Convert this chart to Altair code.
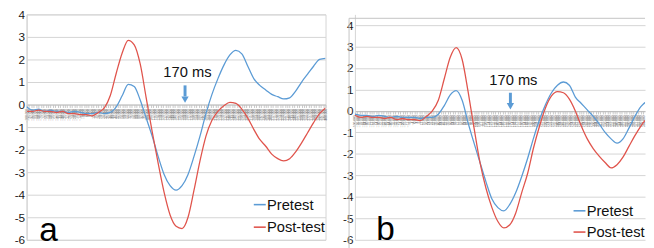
import altair as alt
import pandas as pd

# ---------------- data ----------------
times = list(range(-100, 401, 10))

a_pretest = [-0.1, -0.25, -0.2, -0.3, -0.25, -0.3, -0.3, -0.35, -0.3, -0.35,
             -0.4, -0.4, -0.35, -0.4, -0.35, -0.1, 0.4, 0.9, 0.8, 0.2,
             -0.6, -1.4, -2.3, -3.1, -3.6, -3.8, -3.6, -3.1, -2.3, -1.4,
             -0.4, 0.45, 1.15, 1.75, 2.2, 2.4, 2.25, 1.7, 1.15, 0.85,
             0.65, 0.45, 0.35, 0.25, 0.3, 0.6, 1.0, 1.35, 1.7, 2.0, 2.05]
a_posttest = [-0.3, -0.3, -0.25, -0.3, -0.3, -0.35, -0.3, -0.4, -0.4, -0.45,
              -0.45, -0.5, -0.35, -0.15, 0.4, 1.4, 2.3, 2.85, 2.65, 1.8,
              0.3, -1.2, -2.6, -3.9, -4.9, -5.4, -5.5, -5.0, -3.8, -2.5,
              -1.4, -0.7, -0.3, -0.05, 0.1, 0.05, -0.2, -0.6, -1.1, -1.55,
              -1.85, -2.2, -2.4, -2.5, -2.4, -2.1, -1.7, -1.25, -0.8, -0.4, -0.15]
b_pretest = [-0.15, -0.2, -0.2, -0.25, -0.2, -0.25, -0.3, -0.25, -0.3, -0.3,
             -0.3, -0.35, -0.3, -0.3, -0.15, 0.25, 0.75, 0.95, 0.5, -0.55,
             -1.5, -2.4, -3.3, -4.1, -4.5, -4.65, -4.35, -3.8, -3.05, -2.2,
             -1.25, -0.4, 0.3, 0.85, 1.2, 1.35, 1.2, 0.65, 0.35, 0.05,
             -0.25, -0.6, -1.0, -1.3, -1.5, -1.3, -0.8, -0.25, 0.2, 0.45, 0.55]
b_posttest = [-0.2, -0.3, -0.25, -0.3, -0.3, -0.35, -0.3, -0.4, -0.35, -0.4,
              -0.4, -0.45, -0.25, 0.0, 0.5, 1.5, 2.5, 2.95, 2.4, 0.9,
              -0.8, -2.4, -3.6, -4.5, -5.15, -5.45, -5.3, -4.75, -3.8, -2.9,
              -1.7, -0.7, 0.15, 0.7, 0.9, 0.85, 0.55, 0.0, -0.7, -1.3,
              -1.75, -2.1, -2.4, -2.65, -2.5, -2.15, -1.65, -1.15, -0.7, -0.35, -0.15]

tick_times = list(range(-100, 401, 4))
y_ticks = list(range(-6, 5))
series_names = ["Pretest", "Post-test"]
series_colors = ["#5b9bd5", "#e0544c"]
annotation = "170 ms"
panel_letters = ["a", "b"]
arrow_times = [165, 161]
annotation_times = [169, 166]

# ---------------- layout ----------------
H = 230
W_A = 305
W_B = 296          # panel b is cropped at the right edge, like the reference
B_TMAX = 387       # visible end of panel b's time axis
FONT = "Liberation Sans"
NARROW = "Liberation Sans Narrow, Arial Narrow, Liberation Sans"
GRID = "#d4d4d4"


def panel(pre, post, ymax, width, tmax, arrow_t, text_t, leg_x1, leg_x2, leg_tx,
          leg_y, letter, letter_t, letter_y, framed):
    xs = alt.Scale(domain=[-100, tmax], nice=False, zero=False)
    ys = alt.Scale(domain=[-6, ymax], nice=False, zero=False)
    offset = -H * 6.0 / (ymax + 6.0)
    xa = alt.Axis(values=[t for t in tick_times if t <= tmax], labelAngle=270,
                  labelFontSize=3.3, labelColor="#7a7a7a", labelOverlap=False,
                  labelFlush=False, labelPadding=1, grid=False, domainColor="#bdbdbd",
                  tickColor="#c8c8c8", tickSize=3, offset=offset,
                  labelExpr="format(datum.value, '.3f')", title=None)
    ya = alt.Axis(values=y_ticks, grid=True, gridColor=GRID, domain=True,
                  domainColor=GRID, ticks=False, labelFontSize=12,
                  labelColor="#1a1a1a", labelFont=FONT, labelPadding=2,
                  labelExpr="'' + datum.value", title=None)

    def X(f):
        return alt.X(f, scale=xs, axis=xa)

    def Y(f):
        return alt.Y(f, scale=ys, axis=ya)

    n = len(times)
    df = pd.DataFrame({
        "time": times + times,
        "value": pre + post,
        "series": [series_names[0]] * n + [series_names[1]] * n,
    })
    color = alt.Color("series:N", scale=alt.Scale(domain=series_names, range=series_colors), legend=None)

    lines = alt.Chart(df).mark_line(interpolate="monotone", strokeWidth=1.3, clip=True).encode(
        x=X("time:Q"), y=Y("value:Q"), color=color, order=alt.Order("time:Q"))

    arrow_df = pd.DataFrame({"t": [arrow_t], "y1": [0.85], "y2": [0.36], "yh": [0.22],
                             "tt": [text_t], "ty": [1.42], "label": [annotation]})
    shaft = alt.Chart(arrow_df).mark_rule(strokeWidth=3, color=series_colors[0]).encode(
        x=X("t:Q"), y=Y("y1:Q"), y2="y2:Q")
    head = alt.Chart(arrow_df).mark_point(shape="triangle-down", filled=True, size=55,
                                          opacity=1, color=series_colors[0]).encode(
        x=X("t:Q"), y=Y("yh:Q"))
    label = alt.Chart(arrow_df).mark_text(fontSize=15, font=FONT, color="#111111",
                                          align="center", baseline="middle").encode(
        x=X("tt:Q"), y=Y("ty:Q"), text="label:N")

    leg_df = pd.DataFrame({"series": series_names, "x1": [leg_x1] * 2, "x2": [leg_x2] * 2,
                           "tx": [leg_tx] * 2, "y": leg_y})
    leg_lines = alt.Chart(leg_df).mark_rule(strokeWidth=1.6).encode(
        x=X("x1:Q"), x2="x2:Q", y=Y("y:Q"), color=color)
    leg_text = alt.Chart(leg_df).mark_text(fontSize=15, font=NARROW, color="#111111",
                                           align="left", baseline="middle").encode(
        x=X("tx:Q"), y=Y("y:Q"), text="series:N")

    let_df = pd.DataFrame({"t": [letter_t], "y": [letter_y], "letter": [letter]})
    let_text = alt.Chart(let_df).mark_text(fontSize=34, font=FONT, color="#000000",
                                           align="left", baseline="alphabetic").encode(
        x=X("t:Q"), y=Y("y:Q"), text="letter:N")

    layers = [lines, shaft, head, label, leg_lines, leg_text, let_text]
    if not framed:
        one = alt.Data(values=[{"k": 1}])
        top_border = alt.Chart(one).mark_rule(color="#c4c4c4", strokeWidth=1).encode(
            x=alt.value(-6), x2=alt.value(width), y=alt.value(4))
        left_border = alt.Chart(one).mark_rule(color="#c4c4c4", strokeWidth=1).encode(
            x=alt.value(-6), y=alt.value(4), y2=alt.value(H + 12))
        layers = layers + [top_border, left_border]
    view = alt.ViewBackground(stroke=GRID if framed else "transparent", strokeWidth=1)
    return alt.layer(*layers).properties(width=width, height=H, view=view)


left = panel(a_pretest, a_posttest, 4, W_A, 400, arrow_times[0], annotation_times[0],
             280, 300, 302, [-4.44, -5.44], panel_letters[0], -79, -6.07, True)
right = panel(b_pretest, b_posttest, 4.5, W_B, B_TMAX, arrow_times[1], annotation_times[1],
              267, 287, 289, [-4.65, -5.64], panel_letters[1], -64, -6.02, False)

chart = alt.hconcat(left, right, spacing=30, bounds="flush").properties(
    padding={"left": 5, "top": -3, "right": 0, "bottom": 0}
).configure_view(strokeWidth=1)

chart.save("out.html", embed_options={"renderer": "svg", "actions": False})
